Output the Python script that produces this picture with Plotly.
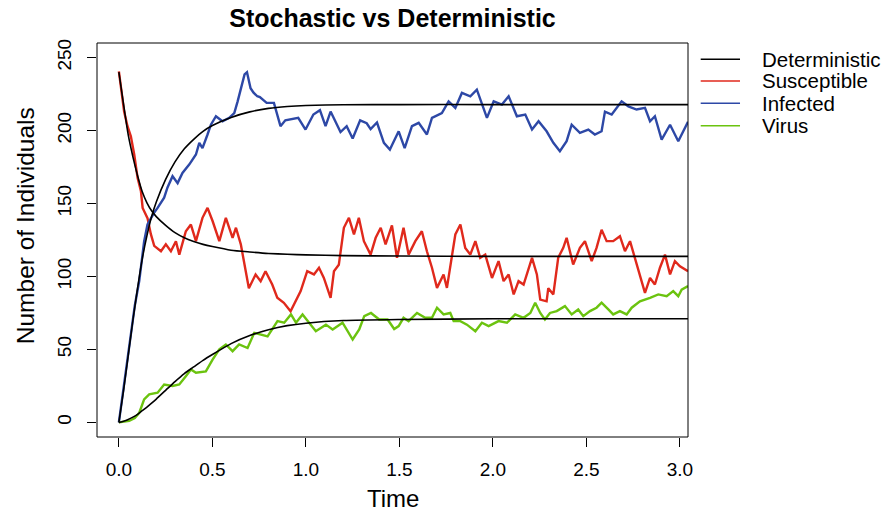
import plotly.graph_objects as go

# ---------------- data ----------------
det_time = [0, 0.025, 0.05, 0.075, 0.1, 0.125, 0.15, 0.175, 0.2, 0.25, 0.3, 0.35, 0.4, 0.45,
            0.5, 0.6, 0.7, 0.8, 0.9, 1.0, 1.2, 1.5, 2.0, 2.5, 3.1]
det_S = [240, 218, 197, 182, 169, 158, 150.5, 145, 141, 135, 130, 126.5, 124, 122, 120.5,
         118, 116.8, 115.8, 115.2, 114.8, 114.3, 114, 113.8, 113.8, 113.8]
det_I = [0, 22, 46, 70, 92, 112, 128, 141, 151, 166.5, 178.5, 187.5, 194, 199.5, 203.5,
         209, 212.8, 215.2, 216.5, 217.2, 217.7, 217.8, 217.8, 217.8, 217.8]
det_V = [0, 0.8, 2, 3.6, 5.5, 8, 10.5, 13.2, 16, 22, 28, 33.5, 38, 42.5, 46.5, 54,
         59.5, 63.5, 66.3, 68, 69.8, 70.5, 71, 71, 71]

s_time = [0, 0.015, 0.028, 0.046, 0.064, 0.082, 0.1, 0.118, 0.127, 0.153, 0.171, 0.189, 0.225,
          0.251, 0.278, 0.305, 0.323, 0.358, 0.385, 0.412, 0.447, 0.474, 0.501, 0.537, 0.572,
          0.608, 0.626, 0.652, 0.668, 0.679, 0.695, 0.731, 0.758, 0.784, 0.82, 0.847, 0.882,
          0.918, 0.945, 0.972, 1.007, 1.043, 1.07, 1.096, 1.132, 1.15, 1.176, 1.203, 1.23,
          1.257, 1.283, 1.31, 1.346, 1.373, 1.4, 1.426, 1.46, 1.487, 1.522, 1.549, 1.585,
          1.62, 1.647, 1.674, 1.701, 1.736, 1.754, 1.781, 1.799, 1.826, 1.852, 1.879, 1.906,
          1.932, 1.959, 1.995, 2.03, 2.057, 2.084, 2.111, 2.137, 2.164, 2.209, 2.235, 2.253,
          2.287, 2.296, 2.323, 2.349, 2.376, 2.394, 2.429, 2.465, 2.492, 2.528, 2.554, 2.581,
          2.608, 2.643, 2.679, 2.706, 2.733, 2.759, 2.786, 2.813, 2.84, 2.866, 2.893, 2.92,
          2.947, 2.973, 3.0, 3.043]
s_vals = [240.6, 226, 213, 203, 196, 183.6, 167.6, 158.4, 147, 140, 129, 121, 117.3,
          122, 117.3, 124.2, 115, 131, 135.6, 124.2, 140.2, 147, 138, 124.2, 140.2,
          126.5, 133.4, 122, 110.5, 104, 92, 101.4, 96.8, 103.6, 94.5, 85.4, 82,
          76.2, 83, 90, 103.6, 101.4, 106, 99, 85.4, 103.6, 108, 133.4, 140.2,
          128.8, 140.2, 124.2, 115, 126.5, 133.4, 122, 135, 112.8, 133.4, 115, 124.2,
          131, 117.3, 106, 92.2, 101.4, 92.2, 115, 128.8, 135.6, 119.6, 115, 124.2,
          112.8, 115, 99, 110.5, 96.8, 101.4, 87.7, 96.8, 94.5, 112.8, 101.4, 84.2,
          83, 92, 87.7, 112.8, 119.6, 126.5, 108.2, 119.6, 124.2, 110.5, 119.6, 132,
          124.2, 124.2, 127.6, 117.3, 124.2, 112.8, 101.4, 88.8, 99, 94.5, 106, 115,
          101.4, 110.5, 107, 103.6]

i_time = [0, 0.03, 0.055, 0.085, 0.109, 0.135, 0.153, 0.171, 0.19, 0.207, 0.242, 0.26, 0.287,
          0.314, 0.34, 0.376, 0.412, 0.43, 0.447, 0.474, 0.492, 0.519, 0.554, 0.59, 0.617,
          0.635, 0.652, 0.672, 0.685, 0.704, 0.72, 0.74, 0.754, 0.79, 0.829, 0.864, 0.89,
          0.918, 0.959, 0.998, 1.04, 1.075, 1.105, 1.132, 1.185, 1.218, 1.25, 1.29, 1.325,
          1.346, 1.38, 1.417, 1.449, 1.46, 1.496, 1.528, 1.567, 1.603, 1.647, 1.674, 1.727,
          1.763, 1.799, 1.834, 1.879, 1.914, 1.95, 1.968, 2.004, 2.048, 2.084, 2.128, 2.173,
          2.209, 2.244, 2.287, 2.323, 2.358, 2.394, 2.421, 2.465, 2.51, 2.545, 2.581, 2.599,
          2.635, 2.688, 2.724, 2.768, 2.813, 2.84, 2.866, 2.902, 2.947, 2.991, 3.018, 3.043]
i_vals = [0, 27, 52, 80, 97, 124, 135.6, 140, 144, 147, 154, 161, 168.7,
          164, 171, 176.7, 183.6, 191.6, 188, 197.3, 204, 209.8, 206.4, 208.7, 212,
          220, 229, 238.5, 240, 229, 226, 223.5, 223, 219, 219, 203, 207,
          207.5, 208.7, 200.7, 211, 214, 203, 213, 199, 203, 194.5, 207, 205,
          201, 205.5, 191.6, 187, 190, 199.5, 188, 203, 205.3, 197.3, 208.7, 212,
          220, 215.5, 225.8, 223.5, 228, 215.5, 208.7, 220, 217.8, 223.5, 209.8, 211,
          200.7, 206.4, 199.5, 191.6, 185.8, 192.7, 204, 198.4, 200.7, 197.3, 199.5, 213,
          211, 220, 216.6, 214.4, 215.5, 206.4, 209.8, 193.8, 204, 192.7, 199.5, 206]

v_time = [0, 0.055, 0.085, 0.109, 0.135, 0.162, 0.207, 0.242, 0.287, 0.323, 0.358, 0.385,
          0.412, 0.465, 0.501, 0.537, 0.572, 0.608, 0.643, 0.688, 0.724, 0.759, 0.795, 0.848,
          0.884, 0.92, 0.947, 0.982, 1.018, 1.053, 1.107, 1.143, 1.196, 1.25, 1.285, 1.312,
          1.348, 1.392, 1.437, 1.472, 1.496, 1.522, 1.549, 1.594, 1.638, 1.674, 1.701, 1.736,
          1.772, 1.79, 1.826, 1.861, 1.906, 1.941, 1.977, 2.03, 2.075, 2.119, 2.164, 2.2,
          2.226, 2.253, 2.278, 2.305, 2.341, 2.385, 2.421, 2.456, 2.483, 2.519, 2.554, 2.581,
          2.617, 2.643, 2.679, 2.715, 2.742, 2.786, 2.84, 2.884, 2.929, 2.964, 2.991, 3.009,
          3.043]
v_vals = [0, 1, 3, 6.6, 15.8, 19.2, 20.3, 26, 25, 26, 31.7, 36.3,
          34, 35, 43, 50, 53.4, 48.8, 53.4, 51, 61.4, 60.3, 59, 69.4,
          68.3, 74, 68.3, 74, 68.3, 62.5, 67, 63.7, 68.3, 56.8, 63.7, 72.8,
          75, 70.5, 70.5, 64, 66, 71.7, 69.4, 75, 71.7, 71.7, 78.6, 74,
          75, 69.4, 69.4, 67, 62.5, 68.3, 66, 69.4, 68.3, 74, 71.7, 75,
          82, 75, 70.5, 75, 76.3, 79.7, 74, 77.4, 72.8, 76.3, 78.6, 82,
          77.4, 74, 76.3, 74, 78.6, 83, 85.4, 87.7, 86.5, 90, 86.5, 91,
          93.4]

x_ticks = [0.0, 0.5, 1.0, 1.5, 2.0, 2.5, 3.0]
y_ticks = [0, 50, 100, 150, 200, 250]
legend_names = ["Deterministic", "Susceptible", "Infected", "Virus"]

# ---------------- style ----------------
RED = "#E0291C"
BLUE = "#2D48A6"
GREEN = "#6BC30F"
BLACK = "#000000"
FONT = "Liberation Sans, Arial, Helvetica, sans-serif"

fig = go.Figure()
fig.add_trace(go.Scatter(x=s_time, y=s_vals, mode="lines", name="Susceptible",
                         line=dict(color=RED, width=2.4), showlegend=False))
fig.add_trace(go.Scatter(x=i_time, y=i_vals, mode="lines", name="Infected",
                         line=dict(color=BLUE, width=2.4), showlegend=False))
fig.add_trace(go.Scatter(x=v_time, y=v_vals, mode="lines", name="Virus",
                         line=dict(color=GREEN, width=2.4), showlegend=False))
for ser in (det_S, det_I, det_V):
    fig.add_trace(go.Scatter(x=det_time, y=ser, mode="lines", name="Deterministic",
                             line=dict(color=BLACK, width=1.6, shape="spline", smoothing=0.6),
                             showlegend=False))

# plot box
fig.add_shape(type="rect", xref="paper", yref="paper", x0=0, y0=0, x1=1, y1=1,
              line=dict(color="black", width=1))

# manual legend (outside right, like R's legend with xpd)
leg_colors = [BLACK, RED, BLUE, GREEN]
leg_y = [0.9586, 0.9036, 0.8470, 0.7901]
for name, col, yy in zip(legend_names, leg_colors, leg_y):
    fig.add_shape(type="line", xref="paper", yref="paper", x0=1.0215, x1=1.088,
                  y0=yy, y1=yy, line=dict(color=col, width=1.5))
    fig.add_annotation(xref="paper", yref="paper", x=1.1218, y=yy, text=name,
                       showarrow=False, xanchor="left", yanchor="middle",
                       font=dict(size=20.5, color="black", family=FONT))

# axis titles
fig.add_annotation(xref="paper", yref="paper", x=0.5, y=-0.157, text="Time",
                   showarrow=False, xanchor="center", yanchor="middle",
                   font=dict(size=24, color="black", family=FONT))
fig.add_annotation(xref="paper", yref="paper", x=-0.1218, y=0.535, text="Number of Individuals",
                   showarrow=False, xanchor="center", yanchor="middle", textangle=-90,
                   font=dict(size=24.5, color="black", family=FONT))

fig.update_layout(
    width=886, height=512,
    margin=dict(l=97, r=198, t=43, b=75, autoexpand=False),
    paper_bgcolor="white", plot_bgcolor="white",
    font=dict(family=FONT, color="black"),
    title=dict(text="<b>Stochastic vs Deterministic</b>", x=0.5, xref="paper",
               y=1 - 18 / 512, yref="container", xanchor="center", yanchor="middle",
               font=dict(size=25, color="black", family=FONT)),
    xaxis=dict(range=[-0.117, 3.043], tickvals=x_ticks,
               ticktext=[f"{v:.1f}" for v in x_ticks],
               showgrid=False, zeroline=False, showline=False,
               ticks="outside", ticklen=9, tickwidth=1, tickcolor="black",
               tickfont=dict(size=19, color="black", family=FONT),
               ticklabelstandoff=6),
    yaxis=dict(range=[-10, 260], tickvals=y_ticks, ticktext=[str(v) for v in y_ticks],
               showgrid=False, zeroline=False, showline=False,
               ticks="outside", ticklen=9, tickwidth=1, tickcolor="black",
               tickangle=-90,
               tickfont=dict(size=19, color="black", family=FONT),
               ticklabelstandoff=8),
    showlegend=False,
)

fig.write_html("out.html")
